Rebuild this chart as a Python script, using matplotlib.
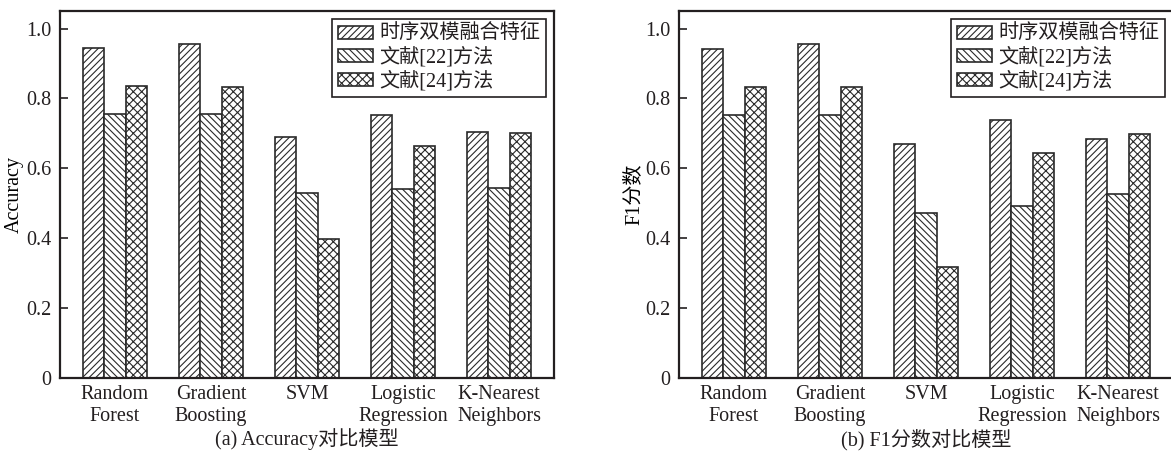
import matplotlib
matplotlib.use("Agg")
from matplotlib import pyplot as plt

plt.rcParams['font.family'] = ['Liberation Serif', 'Noto Sans CJK SC']
plt.rcParams['hatch.linewidth'] = 0.8
plt.rcParams['text.color'] = '#231f20'

models = ['Random\nForest', 'Gradient\nBoosting', 'SVM', 'Logistic\nRegression', 'K-Nearest\nNeighbors']
methods = ['时序双模融合特征', '文献[22]方法', '文献[24]方法']
hatches = ['/////', '\\\\\\\\\\', 'xxxx']

accuracy = [
    [0.945, 0.957, 0.690, 0.752, 0.704],
    [0.755, 0.755, 0.529, 0.541, 0.545],
    [0.836, 0.834, 0.398, 0.664, 0.702],
]
f1_score = [
    [0.941, 0.956, 0.670, 0.737, 0.684],
    [0.752, 0.754, 0.471, 0.493, 0.526],
    [0.834, 0.832, 0.319, 0.644, 0.697],
]

FS = 14.5


def draw_panel(ax, data, ylabel, caption):
    width = 0.222
    x = range(len(models))
    for i, (series, label, hatch) in enumerate(zip(data, methods, hatches)):
        ax.bar([p + (i - 1) * width for p in x], series, width=width,
               color='white', edgecolor='#2a2a2a', linewidth=1.2,
               hatch=hatch, label=label)
    ax.set_xlim(-0.573, 4.573)
    ax.set_ylim(0, 1.05)
    ax.set_yticks([0, 0.2, 0.4, 0.6, 0.8, 1.0])
    ax.set_yticklabels(['0', '0.2', '0.4', '0.6', '0.8', '1.0'])
    ax.set_xticks(list(x))
    ax.set_xticklabels(models, linespacing=1.2)
    ax.tick_params(axis='y', direction='in', length=6, width=1.2, pad=6,
                   labelsize=FS, colors='#231f20')
    ax.tick_params(axis='x', length=0, pad=5, labelsize=FS, colors='#231f20')
    for spine in ax.spines.values():
        spine.set_linewidth(1.6)
        spine.set_color('#231f20')
    ax.set_ylabel(ylabel, fontsize=FS, labelpad=1.5)
    ax.text(0.5, -0.167, caption, transform=ax.transAxes, ha='center',
            va='center', fontsize=FS)
    leg = ax.legend(loc='upper right', fontsize=FS, frameon=True, fancybox=False,
                    edgecolor='#231f20', framealpha=1, handlelength=1.75,
                    handleheight=0.6, handletextpad=0.3, labelspacing=0.15,
                    borderpad=0.3, borderaxespad=0.4)
    leg.get_frame().set_linewidth(1.2)


fig = plt.figure(figsize=(11.71, 4.58), dpi=100)
ax1 = fig.add_axes([0.0512, 0.1747, 0.4219, 0.801])
ax2 = fig.add_axes([0.5798, 0.1747, 0.4219, 0.801])
draw_panel(ax1, accuracy, 'Accuracy', '(a) Accuracy对比模型')
draw_panel(ax2, f1_score, 'F1分数', '(b) F1分数对比模型')

fig.savefig('out.png', dpi=100)
